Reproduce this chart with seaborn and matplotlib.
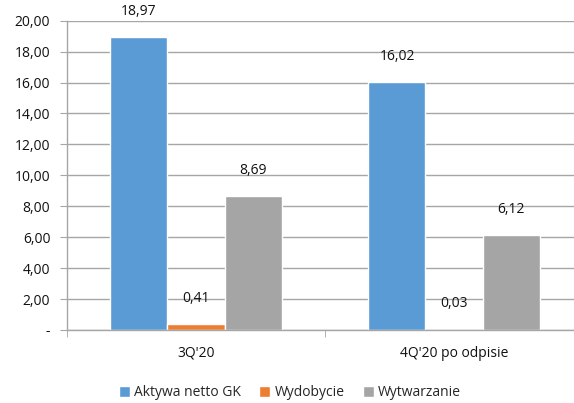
import pandas as pd
import seaborn as sns
import matplotlib.pyplot as plt
from matplotlib.ticker import FuncFormatter

categories = ["3Q'20", "4Q'20 po odpisie"]
series = ["Aktywa netto GK", "Wydobycie", "Wytwarzanie"]
aktywa = [18.97, 16.02]
wydobycie = [0.41, 0.03]
wytwarzanie = [8.69, 6.12]
colors = ["#5B9BD5", "#ED7D31", "#A5A5A5"]

df = pd.DataFrame({
    "kategoria": categories * 3,
    "seria": [series[0]] * 2 + [series[1]] * 2 + [series[2]] * 2,
    "wartosc": aktywa + wydobycie + wytwarzanie,
})

sns.set_style("white")
plt.rcParams["font.family"] = ["Open Sans", "DejaVu Sans"]
fs = 10
txt = "#111111"

fig = plt.figure(figsize=(5.74, 4.03), dpi=100)
ax = fig.add_axes([67 / 574, 73 / 403, 516 / 574, 309.3 / 403])

sns.barplot(data=df, x="kategoria", y="wartosc", hue="seria",
            palette=colors, width=0.663, saturation=1, ax=ax, legend=True)

ax.set_ylim(0, 20)
ax.set_xlim(-0.5, 1.5)
ax.set_yticks(range(0, 21, 2))
ax.yaxis.set_major_formatter(FuncFormatter(
    lambda v, p: "-" if v == 0 else f"{v:.2f}".replace(".", ",")))
ax.grid(axis="y", color="#A6A6A6", linewidth=1)
ax.set_axisbelow(True)
ax.set_xlabel("")
ax.set_ylabel("")

for s in ["top", "right"]:
    ax.spines[s].set_visible(False)
for s in ["left", "bottom"]:
    ax.spines[s].set_color("#A6A6A6")
    ax.spines[s].set_linewidth(1)

ax.tick_params(axis="y", left=True, length=5, color="#A6A6A6",
               labelsize=fs, labelcolor=txt, pad=7)
# category boundary ticks
ax.set_xticks([-0.5, 0.5, 1.5], minor=True)
ax.tick_params(axis="x", which="minor", bottom=True, length=5, color="#A6A6A6")
ax.tick_params(axis="x", which="major", bottom=False, labelsize=fs,
               labelcolor=txt, pad=8)

for cont in ax.containers:
    ax.bar_label(cont, labels=[f"{b.get_height():.2f}".replace(".", ",")
                               for b in cont],
                 padding=13, fontsize=fs, color=txt)

handles, labels = ax.get_legend_handles_labels()
ax.legend(handles, labels, loc="center", bbox_to_anchor=(290 / 574, 10 / 403),
          bbox_transform=fig.transFigure, ncol=3, frameon=False,
          fontsize=fs, handlelength=0.8, handleheight=0.8,
          handletextpad=0.3, columnspacing=1.3)

fig.savefig("out.png", dpi=100)
